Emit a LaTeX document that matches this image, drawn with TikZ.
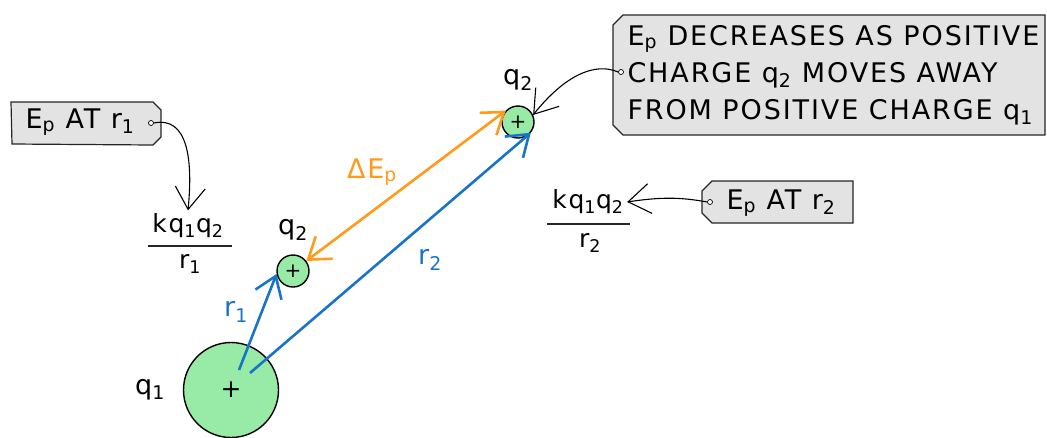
\documentclass[tikz,border=0pt]{standalone}
\usepackage{fontspec}
\setmainfont[LetterSpace=7]{DejaVu Sans}
\usetikzlibrary{arrows.meta}
\definecolor{tagfill}{HTML}{E3E3E3}
\definecolor{chg}{HTML}{98EBA6}
\definecolor{bl}{HTML}{1874C8}
\definecolor{orng}{HTML}{FF9A1A}
\newcommand\sbs[1]{\textsubscript{#1}}
\begin{document}
\begin{tikzpicture}[x=1pt,y=-1pt,
  every node/.style={font=\fontsize{25}{30}\selectfont},
  big/.style={font=\fontsize{27}{30}\selectfont},
  tagbox/.style={draw=black!85, line width=1.2pt, fill=tagfill},
  charge/.style={circle, draw, line width=1.4pt, fill=chg, inner sep=0pt},
  pin/.style={circle, draw, fill=white, inner sep=0pt, minimum size=5pt, line width=0.7pt},
  callout/.style={line width=1.1pt, -{Straight Barb[length=22pt,width=30pt]}},
  vec/.style={line width=2.6pt, -{Straight Barb[length=20pt,width=28pt]}}]
\useasboundingbox (0,0) rectangle (1047,437);
% charges
\node[charge, minimum size=95pt] (q1) at (231,390) {+};
\node[charge, minimum size=32pt] (q2a) at (293,271) {\fontsize{20}{20}\selectfont +};
\node[charge, minimum size=32pt] (q2b) at (518,122) {\fontsize{20}{20}\selectfont +};
\coordinate (r1s) at (239,370);
\coordinate (r2s) at (250,373);
% vectors
\draw[vec, bl] (r1s) -- (q2a.190);
\draw[vec, bl] (r2s) -- (q2b.-40);
\draw[vec, orng, {Straight Barb[length=20pt,width=28pt]}-{Straight Barb[length=20pt,width=28pt]}] (q2a.37) -- (q2b.137);
% labels
\node[big, text=orng] (dE) at (372,172) {ΔE\sbs{p}};
\node[big, text=bl] (lr2) at (430,260) {r\sbs{2}};
\node[big, text=bl] (lr1) at (236,312) {r\sbs{1}};
\node[big] (lq1) at (150,390) {q\sbs{1}};
\node[big] (lq2a) at (293,230) {q\sbs{2}};
\node[big] (lq2b) at (518,80) {q\sbs{2}};
% left tag
\draw[tagbox] (11,102) -- (153,102) -- (161,110) -- (161,137) -- (153,145) -- (12,144) -- cycle;
\node[big] (t1) at (80,122) {E\sbs{p} AT r\sbs{1}};
\node[pin] (p1) at (151,123) {};
\node (n1) at (188,226) {kq\sbs{1}q\sbs{2}};
\node (d1) at (190,264) {r\sbs{1}};
\draw[line width=1.1pt, black!85] (148,246) -- (232,246);
\draw[callout] (p1.east) .. controls (188,116) and (193,160) .. (n1.north);
% right tag
\draw[tagbox] (712,181) -- (853,181) -- (853,223) -- (712,223) -- (702,213) -- (702,191) -- cycle;
\node[big] (t2) at (781,203) {E\sbs{p} AT r\sbs{2}};
\node[pin] (p2) at (710,202) {};
\node (n2) at (588,202) {kq\sbs{1}q\sbs{2}};
\node (d2) at (590,243) {r\sbs{2}};
\draw[line width=1.1pt, black!85] (547,224) -- (630,224);
\draw[callout] (p2.west) .. controls (680,197) and (660,197) .. (n2.east);
% top box
\draw[tagbox] (623,15) -- (1045,15) -- (1045,135) -- (623,135) -- (613,125) -- (613,25) -- cycle;
\node[anchor=west, align=left, font=\fontsize{27}{37}\selectfont] (t3) at (624,75) {E\sbs{p} DECREASES AS POSITIVE\\CHARGE q\sbs{2} MOVES AWAY\\FROM POSITIVE CHARGE q\sbs{1}};
\node[pin] (p3) at (621,72) {};
\draw[callout] (p3.west) .. controls (595,62) and (565,75) .. (q2b.25);
\end{tikzpicture}
\end{document}
